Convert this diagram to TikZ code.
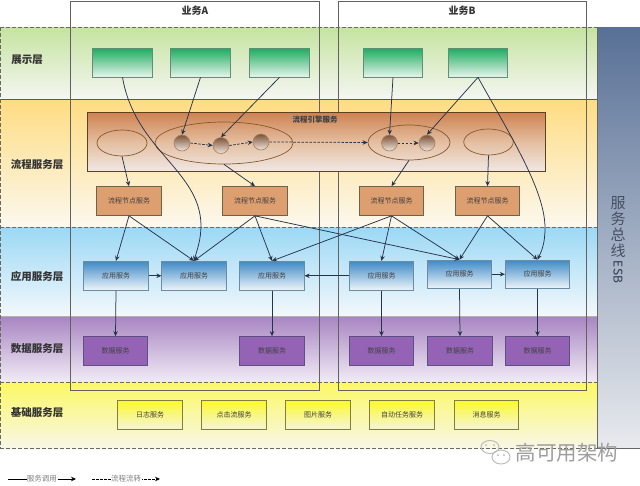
\documentclass[tikz,border=0pt]{standalone}
\usepackage{fontspec}
\setmainfont{Noto Sans CJK SC}
\usetikzlibrary{arrows.meta,shapes.geometric}
\definecolor{ln}{HTML}{26344A}
\definecolor{dsh}{HTML}{6A6A60}
\definecolor{gtop}{HTML}{1CAB5E}
\definecolor{gmid}{HTML}{7CCFA0}
\definecolor{gbot}{HTML}{E8F3EC}
\definecolor{gedge}{HTML}{5F8F78}
\definecolor{ptop}{HTML}{DD9E70}
\definecolor{pedge}{HTML}{6E6248}
\definecolor{atop}{HTML}{3F8AC6}
\definecolor{amid}{HTML}{9CC4E2}
\definecolor{abot}{HTML}{EEF5FA}
\definecolor{aedge}{HTML}{6C8CA4}
\definecolor{dfill}{HTML}{9463B6}
\definecolor{dedge}{HTML}{5E5080}
\definecolor{ytop}{HTML}{FBF92E}
\definecolor{ybot}{HTML}{F6F4DC}
\definecolor{yedge}{HTML}{807F3C}
\definecolor{balltop}{HTML}{7E5238}
\definecolor{ballbot}{HTML}{EFE6DE}
\tikzset{
 sep/.style={draw=dsh,dashed,dash pattern=on 4pt off 2pt,line width=.6pt},
 lab/.style={font=\fontsize{10.5}{12}\selectfont\bfseries,text=black!80},
 biz/.style={draw=black!62,line width=.7pt},
 bt/.style={font=\fontsize{10}{12}\selectfont\bfseries,text=black!80},
 base/.style={rectangle,inner sep=0pt,minimum width=64.5pt,minimum height=29pt,line width=.7pt,font=\fontsize{7}{8}\selectfont,text=black!75},
 gbox/.style={base,minimum width=59.5pt,draw=gedge,top color=gtop,middle color=gmid,bottom color=gbot},
 pbox/.style={base,draw=pedge,fill=ptop},
 abox/.style={base,draw=aedge,top color=atop,middle color=amid,bottom color=abot},
 dbox/.style={base,draw=dedge,fill=dfill},
 ybox/.style={base,draw=yedge,top color=ytop,bottom color=ybot},
 oval/.style={ellipse,inner sep=0pt,draw=brown!70!black,line width=.7pt},
 ball/.style={circle,inner sep=0pt,minimum size=16pt,draw=brown!60!gray,line width=.6pt,top color=balltop,bottom color=ballbot},
 call/.style={draw=ln,line width=.75pt,-{Stealth[length=5pt,width=4.5pt]}},
 flow/.style={call,dashed,dash pattern=on 2.5pt off 1.5pt},
 legt/.style={fill=white,inner sep=.5pt,font=\fontsize{7.5}{8}\selectfont,text=black!50},
}
\begin{document}
\begin{tikzpicture}[x=1pt,y=-1pt]
\useasboundingbox (0,0) rectangle (640,485);
\fill[white] (0,0) rectangle (640,485);
% layers
\shade[top color={rgb,255:red,197;green,227;blue,160},bottom color={rgb,255:red,245;green,246;blue,242}] (0,27) rectangle (597,99);
\shade[top color={rgb,255:red,254;green,220;blue,130},bottom color={rgb,255:red,252;green,248;blue,238}] (0,99) rectangle (597,227);
\shade[top color={rgb,255:red,155;green,216;blue,245},bottom color={rgb,255:red,243;green,248;blue,252}] (0,227) rectangle (597,316);
\shade[top color={rgb,255:red,168;green,133;blue,194},bottom color={rgb,255:red,241;green,235;blue,245}] (0,316) rectangle (597,382);
\shade[top color={rgb,255:red,252;green,248;blue,100},bottom color={rgb,255:red,248;green,247;blue,232}] (0,382) rectangle (597,448);
\draw[sep] (0,27) -- (597,27);
\draw[draw=black!65,line width=.6pt] (0,99) -- (597,99);
\draw[sep] (0,227) -- (597,227);
\draw[draw=black!30,line width=.4pt] (0,316) -- (597,316);
\draw[sep] (0,382) -- (597,382);
\draw[sep] (0,448) -- (597,448);
\draw[sep] (.6,27) -- (.6,448);
% ESB
\shade[top color={rgb,255:red,88;green,112;blue,150},bottom color={rgb,255:red,232;green,234;blue,238}] (597,27) rectangle (640,448);
\draw[black!60,line width=.6pt] (597,27) -- (597,448) -- (640,448);
\node[font=\fontsize{15}{17}\selectfont,text={rgb,255:red,70;green,80;blue,100},align=center] (esb) at (618,227) {服\\[-1pt]务\\[-1pt]总\\[-1pt]线};
\node[font=\fontsize{12}{14}\selectfont,text={rgb,255:red,45;green,55;blue,75},rotate=-90] (esbt) at (618,272) {ESB};
% labels
\node[lab] (l1) at (27,60) {展示层};
\node[lab] (l2) at (37,165) {流程服务层};
\node[lab] (l3) at (37,276) {应用服务层};
\node[lab] (l4) at (37,349) {数据服务层};
\node[lab] (l5) at (37,413) {基础服务层};
% biz
\draw[biz] (70,1) rectangle (319.5,390);
\draw[biz] (338,1) rectangle (586,390);
\node[bt] (ba) at (195,10.5) {业务A};
\node[bt] (bb) at (462,10.5) {业务B};
% green
\node[gbox] (g1) at (122.5,62.5) {};
\node[gbox] (g2) at (200.5,62.5) {};
\node[gbox] (g3) at (279.5,62.5) {};
\node[gbox] (g4) at (393,62.5) {};
\node[gbox] (g5) at (478,62.5) {};
% engine
\node[rectangle,inner sep=0pt,minimum width=457.5pt,minimum height=59.5pt,draw=black!50!brown,line width=.7pt,top color={rgb,255:red,205;green,130;blue,80},bottom color={rgb,255:red,240;green,232;blue,228},middle color={rgb,255:red,228;green,190;blue,160}] (eng) at (316.25,141.75) {};
\node[font=\fontsize{7.5}{8}\selectfont\bfseries,text=black!75] (engt) at (315,120) {流程引擎服务};
\node[oval,minimum width=50pt,minimum height=26pt] (e1) at (122,143) {};
\node[oval,minimum width=138pt,minimum height=42pt] (e2) at (224,143) {};
\node[oval,minimum width=82pt,minimum height=35pt] (e3) at (409,142.5) {};
\node[oval,minimum width=49.5pt,minimum height=26pt] (e4) at (488.5,142) {};
\node[ball] (c1) at (182,143) {};
\node[ball] (c2) at (221,145.5) {};
\node[ball] (c3) at (261,142) {};
\node[ball] (c4) at (389.5,143) {};
\node[ball] (c5) at (427,143) {};
% process
\node[pbox] (p1) at (129,201) {流程节点服务};
\node[pbox] (p2) at (255,201) {流程节点服务};
\node[pbox] (p3) at (391.5,201) {流程节点服务};
\node[pbox] (p4) at (487.5,201) {流程节点服务};
% app
\node[abox] (a1) at (116,275.75) {应用服务};
\node[abox] (a2) at (194,275.75) {应用服务};
\node[abox] (a3) at (272,275.75) {应用服务};
\node[abox] (a4) at (381.5,275.75) {应用服务};
\node[abox,minimum height=28.5pt] (a5) at (459.5,274.25) {应用服务};
\node[abox,minimum height=28.5pt] (a6) at (537.5,274.25) {应用服务};
% data
\node[dbox] (d1) at (115.5,351) {数据服务};
\node[dbox] (d2) at (272,351) {数据服务};
\node[dbox] (d3) at (381.5,351) {数据服务};
\node[dbox] (d4) at (460,351) {数据服务};
\node[dbox] (d5) at (537.5,351) {数据服务};
% base
\node[ybox] (y1) at (150,415.25) {日志服务};
\node[ybox] (y2) at (234,415.25) {点击流服务};
\node[ybox] (y3) at (318,415.25) {图片服务};
\node[ybox] (y4) at (402,415.25) {自动任务服务};
\node[ybox] (y5) at (486.5,415.25) {消息服务};
% connectors
\draw[call] (g1.south) .. controls (135,150) and (200,170) .. (201,225) .. controls (201,240) and (197,250) .. (a2.north);
\draw[call] (g2.south) -- (c1.north);
\draw[call] (g3.south) -- (c2.north);
\draw[call] (g4.south) -- (c4.north);
\draw[call] (g5.south) -- (c5.north);
\draw[call] (g5.south) .. controls (510,135) and (545,190) .. (545,228) .. controls (545,245) and (541,252) .. (a6.north);
\draw[call] (e1.south) -- (p1.north);
\draw[call] (e2.south) -- (p2.north);
\draw[call] (e3.south) -- (p3.north);
\draw[call] (e4.south) -- (p4.north);
\draw[call] (p1.south) -- (a1.north);
\draw[call] (p1.south) -- (a2.north);
\draw[call] (p2.south) -- (a2.north);
\draw[call] (p2.south) -- (a3.north);
\draw[call] (p2.south) -- (a5.north);
\draw[call] (p3.south) -- (a3.north);
\draw[call] (p3.south) -- (a4.north);
\draw[call] (p3.south) -- (a5.north);
\draw[call] (p4.south) -- (a5.north);
\draw[call] (p4.south) -- (a6.north);
\draw[call] (a1.east) -- (a2.west);
\draw[call] (a4.west) -- (a3.east);
\draw[call] (a5.east) -- (a6.west);
\draw[call] (a1.south) -- (d1.north);
\draw[call] (a3.south) -- (d2.north);
\draw[call] (a4.south) -- (d3.north);
\draw[call] (a5.south) -- (d4.north);
\draw[call] (a6.south) -- (d5.north);
\draw[flow] (c1.east) -- (c2.west);
\draw[flow] (c2.east) -- (c3.west);
\draw[flow] (c3.east) -- (e3.west);
\draw[flow] (c4.east) -- (c5.west);
% legend
\coordinate (la) at (8,479);
\coordinate (lb) at (76,479);
\coordinate (lc) at (92,479);
\coordinate (ld) at (160,479);
\draw[call,draw=black] (la) -- (lb);
\draw[flow,draw=black] (lc) -- (ld);
\node[legt] (lt1) at (42,479) {服务调用};
\node[legt] (lt2) at (126,479) {流程流转};
% watermark
\node[font=\fontsize{20.5}{22}\selectfont,text=black!38] (wm) at (567,453) {高可用架构};
\draw[black!28,line width=.9pt] (490,447) ellipse (9 and 6.5);
\draw[black!28,line width=.9pt] (501,457) ellipse (9 and 7);
\fill[black!28] (486,445) circle (1) (494,445) circle (1) (498,455) circle (1) (504,455) circle (1);
\end{tikzpicture}
\end{document}
